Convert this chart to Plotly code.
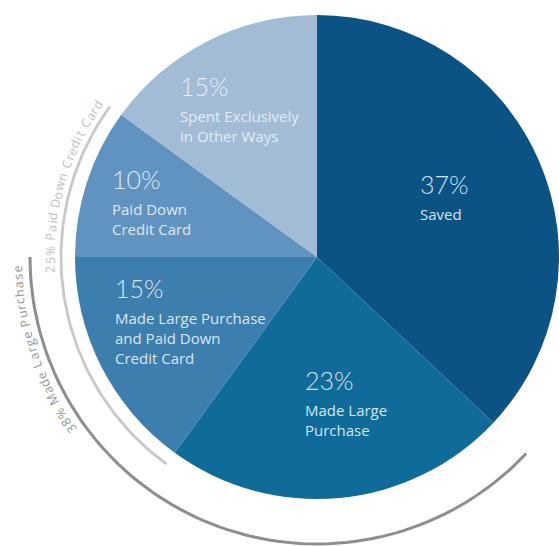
import plotly.graph_objects as go
import math

# ---------------- data ----------------
labels = ["Saved", "Made Large Purchase", "Made Large Purchase and Paid Down Credit Card",
          "Paid Down Credit Card", "Spent Exclusively in Other Ways"]
values = [37, 23, 15, 10, 15]
pct_text = ["37%", "23%", "15%", "10%", "15%"]
label_lines = [["Saved"], ["Made Large", "Purchase"], ["Made Large Purchase", "and Paid Down", "Credit Card"],
               ["Paid Down", "Credit Card"], ["Spent Exclusively", "in Other Ways"]]
slice_colors = ["#0a5384", "#0f6b99", "#3c7eae", "#6193c0", "#a3bcd6"]

group_labels = ["25% Paid Down Credit Card", "38% Made Large Purchase"]
group_members = [[2, 3], [1, 2]]

# ---------------- styling / layout ----------------
W, H = 559, 546
CX, CY, R = 317, 257, 242
text_anchor = [(418, 184), (303, 380), (113, 288), (110, 179), (178, 86)]
arc_radius = [256, 287]
arc_colors = ["#c8c8c8", "#8e8e8e"]
arc_widths = [2.8, 3]
curve_text_radius = [267, 300]
curve_text_mid = [286, 251.3]
curve_text_colors = ["#c0c0c0", "#959595"]
FONT = "Lato"
LABEL_FONT = "Open Sans"

fig = go.Figure()

fig.add_trace(go.Pie(
    labels=labels, values=values, sort=False, direction="clockwise", rotation=0,
    marker=dict(colors=slice_colors, line=dict(width=0)),
    textinfo="none", hoverinfo="skip", showlegend=False,
    domain=dict(x=[(CX - R) / W, min(1, (CX + R) / W)],
                y=[(H - CY - R) / H, (H - CY + R) / H]),
))

total = sum(values)
cum = [0]
for v in values:
    cum.append(cum[-1] + v)


def pt(theta_deg, r):
    t = math.radians(theta_deg)
    return CX + r * math.sin(t), CY - r * math.cos(t)


# arcs
for gi, members in enumerate(group_members):
    a0 = cum[min(members)] / total * 360
    a1 = cum[max(members) + 1] / total * 360
    n = 80
    xs, ys = [], []
    for k in range(n + 1):
        x, y = pt(a0 + (a1 - a0) * k / n, arc_radius[gi])
        xs.append(x)
        ys.append(y)
    fig.add_trace(go.Scatter(x=xs, y=ys, mode="lines", hoverinfo="skip", showlegend=False,
                             line=dict(color=arc_colors[gi], width=arc_widths[gi])))

annotations = []

# slice labels
for i in range(len(values)):
    ax, ay = text_anchor[i]
    annotations.append(dict(x=ax, y=ay, xref="x", yref="y", text=pct_text[i], showarrow=False,
                            xanchor="left", yanchor="middle",
                            font=dict(family=FONT, size=25, color="rgba(235,242,248,0.92)", weight=300)))
    for j, line in enumerate(label_lines[i]):
        annotations.append(dict(x=ax, y=ay + 30 + 20 * j, xref="x", yref="y", text=line, showarrow=False,
                                xanchor="left", yanchor="middle",
                                font=dict(family=LABEL_FONT, size=15, color="rgba(235,242,248,0.92)")))


# curved text
def char_w(c):
    if c == " ":
        return 0.22
    if c == "%":
        return 0.78
    if c.isdigit():
        return 0.58
    if c in "ilIj":
        return 0.25
    if c in "tfr":
        return 0.36
    if c in "mw":
        return 0.78
    if c in "MW":
        return 0.9
    if c.isupper():
        return 0.64
    return 0.53


CFS = 13
LS = 1.1
for gi, txt in enumerate(group_labels):
    widths = [char_w(c) * CFS for c in txt]
    L = sum(widths) + LS * (len(txt) - 1)
    r = curve_text_radius[gi]
    start = curve_text_mid[gi] - math.degrees(L / (2 * r))
    s = 0
    for c, w in zip(txt, widths):
        center = s + w / 2
        th = start + math.degrees(center / r)
        x, y = pt(th, r)
        s += w + LS
        if c == " ":
            continue
        annotations.append(dict(x=x, y=y, xref="x", yref="y", text=c, showarrow=False,
                                xanchor="center", yanchor="middle", textangle=th - 360,
                                font=dict(family=LABEL_FONT, size=CFS - 0.5, color=curve_text_colors[gi])))

fig.update_layout(
    width=W, height=H, margin=dict(l=0, r=0, t=0, b=0, pad=0),
    paper_bgcolor="white", plot_bgcolor="white",
    xaxis=dict(range=[0, W], visible=False, fixedrange=True),
    yaxis=dict(range=[H, 0], visible=False, fixedrange=True),
    annotations=annotations, showlegend=False,
)

fig.write_html("out.html")
